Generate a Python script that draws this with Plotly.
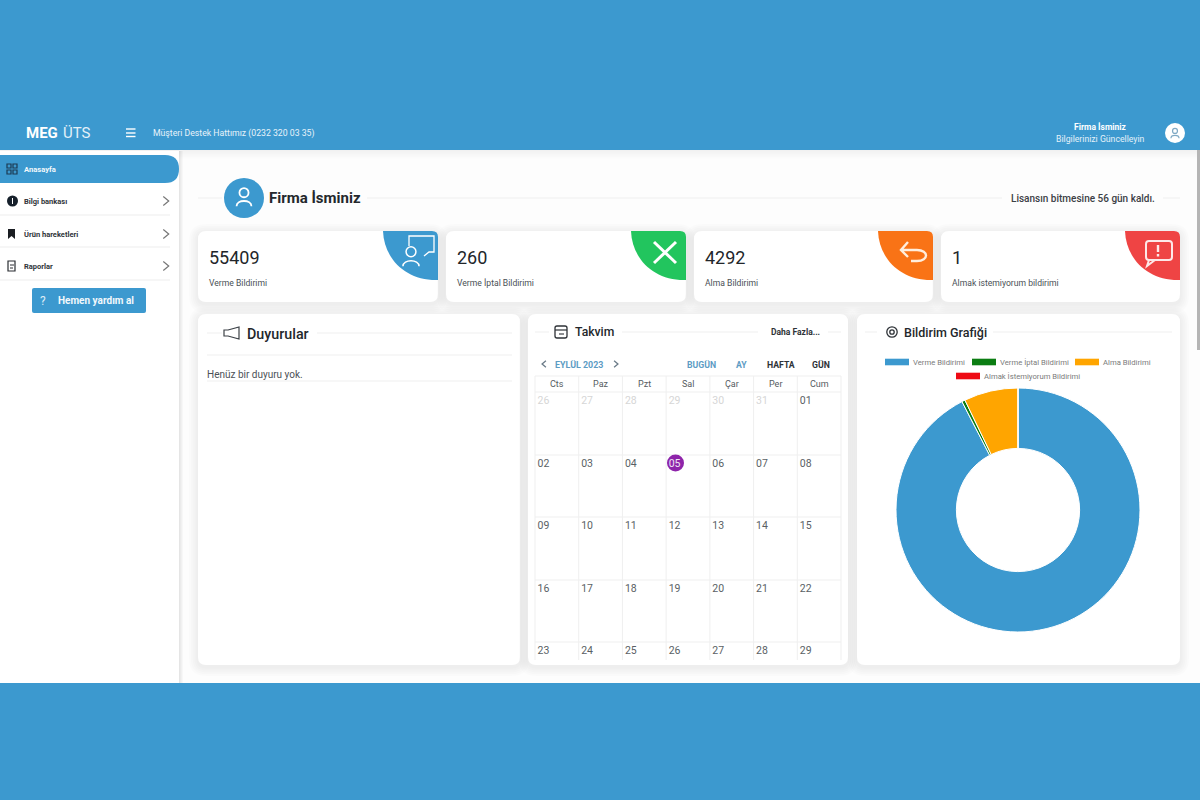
import plotly.graph_objects as go

# chart data
pie_labels = ["Verme Bildirimi", "Verme İptal Bildirimi", "Alma Bildirimi", "Almak İstemiyorum Bildirimi"]
pie_values = [55409, 260, 4292, 1]
pie_colors = ["#3c99cf", "#0b7d12", "#ffa500", "#ee0a14"]

card_values = ["55409", "260", "4292", "1"]
card_labels = ["Verme Bildirimi", "Verme İptal Bildirimi", "Alma Bildirimi", "Almak istemiyorum bildirimi"]
card_colors = ["#3c99cf", "#22c55e", "#f97316", "#ef4444"]

week_days = ["Cts", "Paz", "Pzt", "Sal", "Çar", "Per", "Cum"]
calendar_days = [
    ["26", "27", "28", "29", "30", "31", "01"],
    ["02", "03", "04", "05", "06", "07", "08"],
    ["09", "10", "11", "12", "13", "14", "15"],
    ["16", "17", "18", "19", "20", "21", "22"],
    ["23", "24", "25", "26", "27", "28", "29"],
]
menu_items = ["Bilgi bankası", "Ürün hareketleri", "Raporlar"]

BLUE = "#3c99cf"
DARK = "#23272b"
FONT = "Roboto"

shapes = []
notes = []


def rect(x0, y0, x1, y1, color, opacity=1):
    shapes.append(dict(type="rect", x0=x0, y0=y0, x1=x1, y1=y1, fillcolor=color,
                       line_width=0, opacity=opacity, layer="below"))


def line(x0, y0, x1, y1, color="#efefef", width=1):
    shapes.append(dict(type="line", x0=x0, y0=y0, x1=x1, y1=y1,
                       line=dict(color=color, width=width), layer="below"))


def circle(cx, cy, r, fill="rgba(0,0,0,0)", color=None, width=0):
    shapes.append(dict(type="circle", x0=cx - r, y0=cy - r, x1=cx + r, y1=cy + r, fillcolor=fill,
                       line=dict(color=color or fill, width=width), layer="below"))


def path(d, color=None, width=1.5, fill="rgba(0,0,0,0)"):
    shapes.append(dict(type="path", path=d, fillcolor=fill,
                       line=dict(color=color or "rgba(0,0,0,0)", width=width), layer="below"))


def round_path(x0, y0, x1, y1, r):
    return (f"M{x0 + r},{y0} L{x1 - r},{y0} Q{x1},{y0} {x1},{y0 + r} L{x1},{y1 - r} Q{x1},{y1} {x1 - r},{y1} "
            f"L{x0 + r},{y1} Q{x0},{y1} {x0},{y1 - r} L{x0},{y0 + r} Q{x0},{y0} {x0 + r},{y0} Z")


def card(x0, y0, x1, y1, r=8):
    # soft drop shadow from stacked translucent boxes
    for i in range(1, 6):
        d = i * 1.8
        path(round_path(x0 - d, y0 - d + 2, x1 + d, y1 + d + 2, r + d), fill="rgba(0,0,0,0.01)")
    path(round_path(x0, y0, x1, y1, r), fill="white")


def text(x, y, s, size=10, color=DARK, anchor="left", weight=400):
    # annotations sit about a pixel inside their anchor
    nudge = {"left": -1, "right": 1, "center": 0}[anchor]
    notes.append(dict(x=x + nudge, y=y, text=s, showarrow=False, xanchor=anchor, yanchor="middle", borderpad=0,
                      font=dict(family=FONT, size=size, color=color, weight=weight)))


def chevron(x, y, s=4, color="#777777", width=1.2, left=False):
    k = -1 if left else 1
    path(f"M{x - k * s * 0.6},{y - s} L{x + k * s * 0.6},{y} L{x - k * s * 0.6},{y + s}", color, width)


def person(cx, cy, s, color, width=2):
    circle(cx, cy - 0.4 * s, 0.38 * s, color=color, width=width)
    path(f"M{cx - 0.62 * s},{cy + 0.72 * s} C{cx - 0.62 * s},{cy + 0.15 * s} {cx + 0.62 * s},{cy + 0.15 * s} "
         f"{cx + 0.62 * s},{cy + 0.72 * s}", color, width)


# page frame
rect(0, 150, 1200, 683, "#fdfdfd")
rect(0, 119, 1200, 150, BLUE)
for i in range(6):
    rect(0, 150, 1200, 151 + i * 1.5, "#000000", 0.006)
rect(0, 683, 1200, 800, BLUE)
rect(1197, 150, 1200, 350, "#b5b5b5")

# sidebar
for i in range(1, 5):
    rect(179, 151, 179 + i, 683, "#000000", 0.025)
rect(0, 151, 179, 683, "#ffffff")
path("M0,155 L165,155 Q179,155 179,169 Q179,183 165,183 L0,183 Z", fill=BLUE)
text(24, 169, "Anasayfa", 7.6, "#f2f8fc", weight=700)
for y1 in [215, 247, 280]:
    line(0, y1, 170, y1, "#f3f3f3", 1.5)
for name, y in zip(menu_items, [201, 234, 266]):
    text(24, y, name, 7.5, "#30343a", weight=700)
    chevron(166, y, 4.5)

# sidebar icons
for dx, dy in [(7, 164), (13, 164), (7, 170), (13, 170)]:
    shapes.append(dict(type="rect", x0=dx, y0=dy, x1=dx + 4, y1=dy + 4, fillcolor="rgba(0,0,0,0)",
                       line=dict(color="#1c3a52", width=1.2), layer="below"))
circle(12.5, 201, 5.5, "#16202b")
rect(12, 198, 13, 204, "#ffffff")
path("M8,229 L15,229 L15,239 L11.5,236 L8,239 Z", fill="#1a1d22")
path("M10,261 L15,261 L15,271 L8,271 L8,261 Z", "#2a2d33", 1.2)
line(10, 265, 14, 265, "#2a2d33", 1)
line(10, 268, 13, 268, "#2a2d33", 1)

path(round_path(32, 288, 146, 313, 2), fill=BLUE)
text(43, 300.5, "?", 12, "#dcecf6", "center")
text(58, 300.5, "Hemen yardım al", 10, "#f2f8fc", weight=700)

# header
text(26, 133, "MEG", 15, "white", weight=700)
text(63, 133, "ÜTS", 15, "#e4f1f9")
for y in [129, 133, 136.5]:
    line(126, y, 135.5, y, "white", 1.4)
text(153, 133, "Müşteri Destek Hattımız (0232 320 03 35)", 8.7, "#e8f3fa")
text(1127, 127, "Firma İsminiz", 8.5, "white", "right", weight=700)
text(1145, 139, "Bilgilerinizi Güncelleyin", 8.7, "#e4f1f9", "right")
circle(1175, 133, 10, "white")
person(1175, 133.5, 6.5, "#7fa9c4", 1.2)

# company row
line(198, 198, 222, 198)
line(367, 198, 1002, 198)
line(1163, 198, 1180, 198)
circle(244, 198, 20, BLUE)
person(244, 197.5, 12, "white", 1.8)
text(269, 198, "Firma İsminiz", 15, "#24282c", weight=700)
text(1155, 198, "Lisansın bitmesine 56 gün kaldı.", 10, "#3b4045", "right", weight=500)

# stat cards
card_x = [(198, 438), (446, 686), (694, 933), (941, 1180)]
for (x0, x1), val, lab, col in zip(card_x, card_values, card_labels, card_colors):
    card(x0, 231, x1, 302)
    path(f"M{x1 - 55},231 L{x1 - 6},231 Q{x1},231 {x1},237 L{x1},280 C{x1 - 32},281 {x1 - 54},259 {x1 - 55},231 Z", fill=col)
    text(x0 + 11, 257, val, 18, "#22262a")
    text(x0 + 11, 282.5, lab, 8.6, "#4a4f55")

# card icons
path("M409,246 L409,236 L434,236 L434,252 L429,252 L424,256", "white", 1.3)
person(411, 257, 13, "white", 1.5)
line(654, 242, 676, 263, "white", 3)
line(676, 242, 654, 263, "white", 3)
path("M901,250 L917,250 C929,250 929,261 917,261 L911,261 M908,242 L901,250 L908,257", "#ffeedd", 2.4)
path(round_path(1146, 241, 1172, 260, 3), "#fde8e8", 2)
path("M1149,260 L1147,266 L1155,260", "#fde8e8", 2)
line(1158, 245, 1158, 252, "#fde8e8", 2.4)
line(1158, 254, 1158, 256.5, "#fde8e8", 2.4)

# panels
card(198, 314, 520, 665)
card(528, 314, 848, 665)
card(857, 314, 1180, 665)

# announcements
line(207, 333, 222, 333)
line(317, 333, 512, 333)
path("M228,330 L239,327 L239,339 L228,336 L224,336 L224,330 Z", "#3c4147", 1.2)
text(247, 333.5, "Duyurular", 14.3, DARK, weight=500)
line(207, 355, 512, 355)
line(207, 381, 512, 381)
text(207, 374, "Henüz bir duyuru yok.", 10, "#4c5157")

# calendar header
line(535, 332, 549, 332)
line(622, 332, 758, 332)
line(828, 332, 841, 332)
path(round_path(555, 326, 567, 338, 2), "#2e3237", 1.3)
line(555, 330, 567, 330, "#2e3237", 1.2)
line(559, 334, 564, 334, "#2e3237", 1.1)
text(575, 332, "Takvim", 12.2, DARK, weight=500)
text(771, 332, "Daha Fazla...", 8.5, "#2e3237", weight=700)
chevron(544, 364, 3.2, "#6b7b88", 1.3, left=True)
text(555, 364.5, "EYLÜL 2023", 8.9, "#5d9cc4", weight=700)
chevron(616, 364, 3.2, "#6b7b88", 1.3)
text(701, 364.5, "BUGÜN", 8.7, "#5d9cc4", "center", weight=700)
text(741, 364.5, "AY", 8.7, "#5d9cc4", "center", weight=700)
text(781, 364.5, "HAFTA", 8.7, "#2e3237", "center", weight=700)
text(821, 364.5, "GÜN", 8.7, "#2e3237", "center", weight=700)

# calendar grid
grid_left, grid_right, col_w = 535, 841, (841 - 535) / 7
row_y = [392, 455, 517, 580, 642]
line(grid_left, 376, grid_right, 376, "#efefef")
for y in row_y:
    line(grid_left, y, grid_right, y, "#efefef")
for i in range(8):
    x = grid_left + i * col_w
    line(x, 376, x, 660, "#efefef")
for i, day in enumerate(week_days):
    text(grid_left + (i + 0.5) * col_w, 384, day, 9, "#565b61", "center")
circle(675.5, 463, 8.5, "#8e24aa")

# chart legend
line(865, 332, 877, 332)
line(993, 332, 1172, 332)
circle(892, 332, 5.2, color="#2e3237", width=1.3)
circle(892, 332, 2.2, color="#2e3237", width=1.3)
text(904, 332, "Bildirim Grafiği", 12.5, DARK, weight=500)
legend_x = [885, 972, 1075, 956]
legend_y = [362, 362, 362, 376]
for name, col, x, y in zip(pie_labels, pie_colors, legend_x, legend_y):
    rect(x, y - 3.3, x + 24, y + 3.3, col)
    text(x + 28, y, name, 7.7, "#7b7b7b")

# date labels, first row is the previous month
day_x, day_y, day_text, day_color = [], [], [], []
for r, row in enumerate(calendar_days):
    for c, day in enumerate(row):
        day_x.append(grid_left + c * col_w + 2.5)
        day_y.append(row_y[r] + 9)
        day_text.append(day)
        if r == 0 and c < 6:
            day_color.append("#d6d6d6")
        elif r == 1 and c == 3:
            day_color.append("#f0e4f5")
        else:
            day_color.append("#5a5f65")

fig = go.Figure()
fig.add_trace(go.Scatter(x=day_x, y=day_y, text=day_text, mode="text", textposition="middle right",
                         textfont=dict(family=FONT, size=10.5, color=day_color),
                         hoverinfo="skip", showlegend=False))
fig.add_trace(go.Pie(labels=pie_labels, values=pie_values, hole=0.505, sort=False, direction="clockwise",
                     rotation=0, textinfo="none", showlegend=False,
                     marker=dict(colors=pie_colors, line=dict(color="white", width=1)),
                     domain=dict(x=[(1018 - 122) / 1200, (1018 + 122) / 1200],
                                 y=[1 - 632 / 800, 1 - 388 / 800])))

fig.update_layout(
    width=1200, height=800, margin=dict(l=0, r=0, t=0, b=0),
    paper_bgcolor=BLUE, plot_bgcolor=BLUE,
    xaxis=dict(range=[0, 1200], visible=False, fixedrange=True),
    yaxis=dict(range=[800, 0], visible=False, fixedrange=True),
    shapes=shapes, annotations=notes, hovermode=False,
)

# page body has a default margin, drop it so the figure fills the window
fig.write_html("out.html", config=dict(displayModeBar=False),
               post_script="document.body.style.margin='0';document.body.style.overflow='hidden';")
